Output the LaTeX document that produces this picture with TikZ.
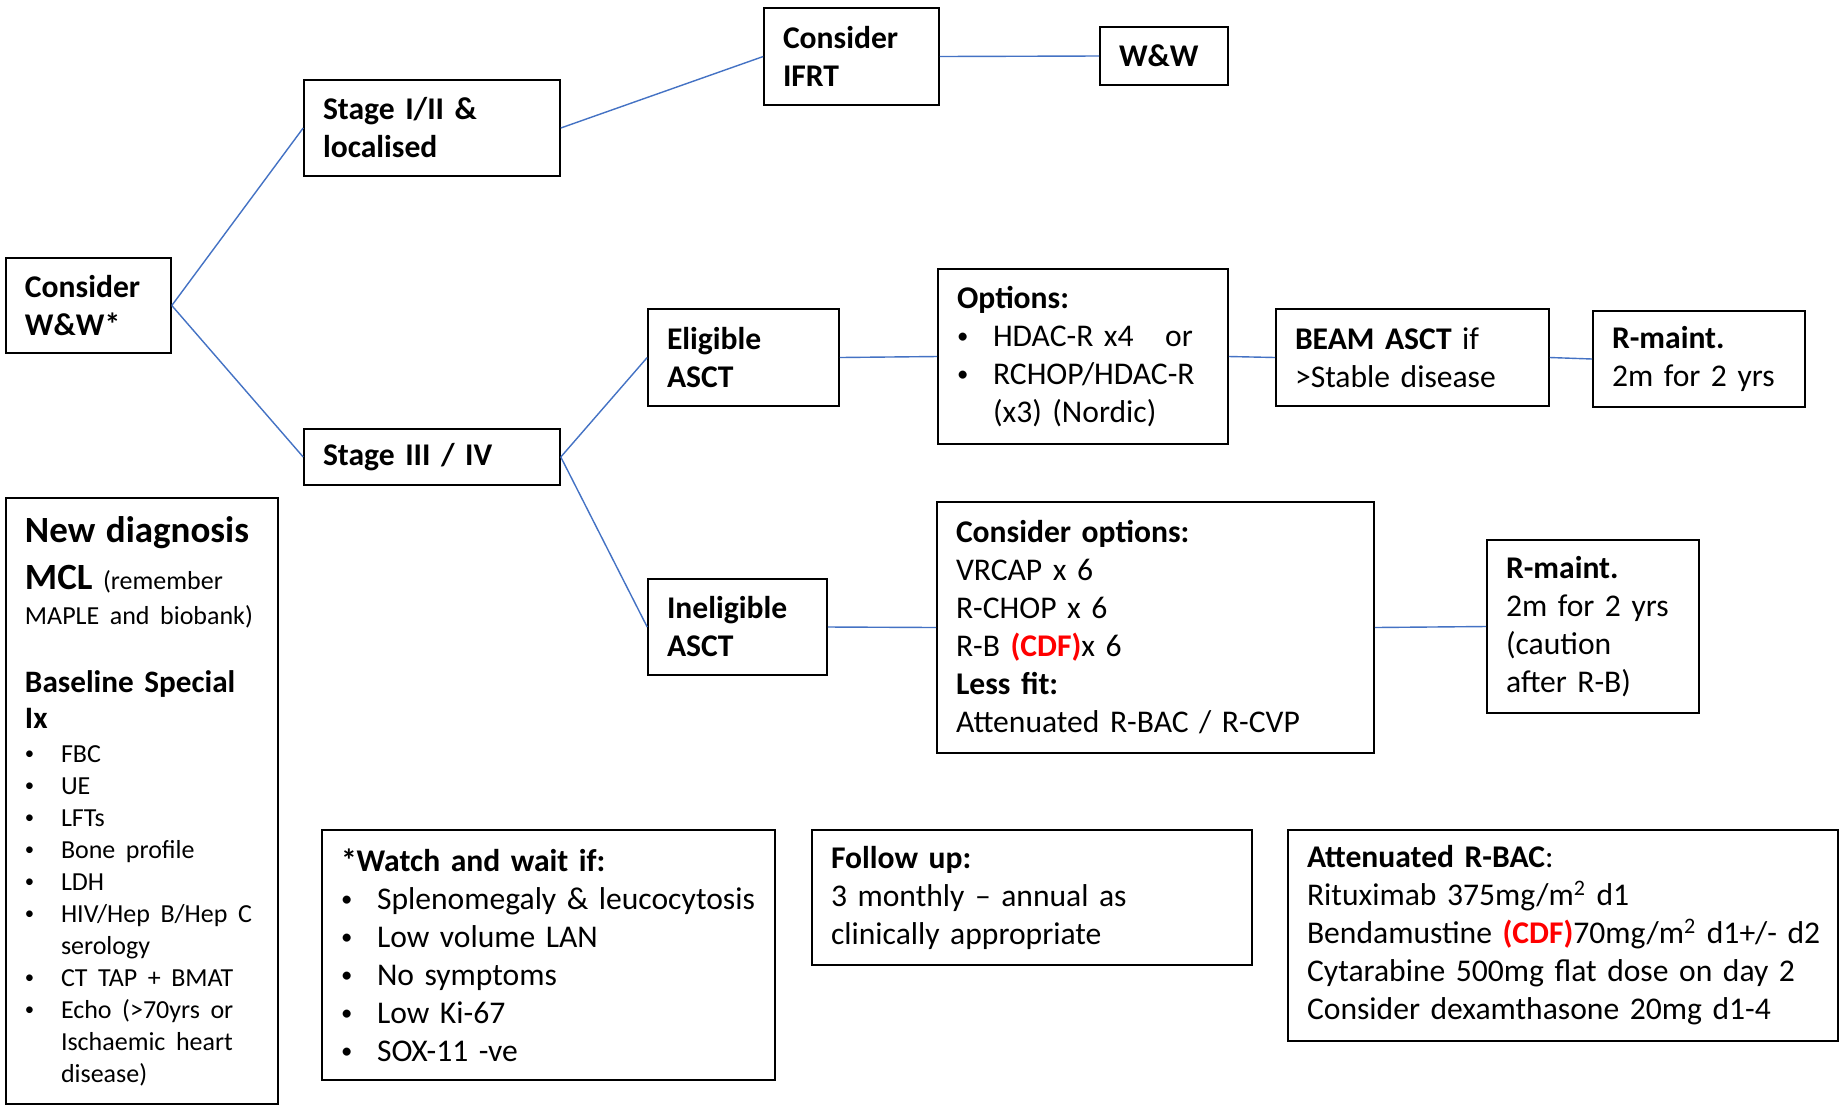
\documentclass[tikz,border=0pt]{standalone}
\usepackage{fontspec}
\setmainfont{Carlito}[WordSpace=0.8]
\usepackage{xcolor}
\definecolor{lnblue}{HTML}{4472C4}
\definecolor{cdfred}{HTML}{FF0000}
\newlength\bi \setlength\bi{18pt}
\newcommand\itm{\par\noindent\makebox[\bi][l]{\raisebox{0.09em}{\scalebox{0.72}{\textbullet}}}}
\newcommand\cnt{\par\noindent\hspace*{\bi}}
\newcommand\cdf{\textcolor{cdfred}{\bfseries (CDF)}}
\tikzset{
  box/.style={draw=black, line width=0.8pt, fill=white, inner xsep=9.5pt, inner ysep=0pt,
    align=left, font=\fontsize{15.8}{19}\selectfont,
    execute at begin node={\setlength\parindent{0pt}\lineskiplimit=-100pt}},
  conn/.style={draw=lnblue, line width=0.7pt}
}
\newcommand\bx[6]{%
  \pgfmathsetmacro\bxcx{(#2+#4)/2}%
  \pgfmathsetmacro\bxcy{(#3+#5)/2}%
  \pgfmathsetmacro\bxw{(#4-#2)*0.5}%
  \pgfmathsetmacro\bxh{(#5-#3)*0.5}%
  \pgfmathsetmacro\bxt{\bxw-19}%
  \node[box, minimum width=\bxw pt, minimum height=\bxh pt, text width=\bxt pt] (#1) at (\bxcx,\bxcy) {#6};}
\begin{document}
\begin{tikzpicture}[x=0.5pt,y=-0.5pt]
\useasboundingbox[fill=white] (0,0) rectangle (1845,1110);

\bx{cww}{6}{258}{171}{353}{\bfseries Consider\\W\&W*}
\bx{st12}{304}{80}{560}{176}{\bfseries Stage I/II \&\\localised}
\bx{ifrt}{764}{8}{939}{105}{\bfseries Consider\\IFRT}
\bx{ww}{1100}{27}{1228}{85}{\bfseries W\&W}
\bx{st34}{304}{429}{560}{485}{\bfseries Stage III / IV}
\bx{elig}{648}{309}{839}{406}{\bfseries Eligible\\ASCT}
\bx{opts}{938}{269}{1228}{444}{\textbf{Options:}\itm HDAC-R x4\ \ \ or\itm RCHOP/HDAC-R\cnt (x3) (Nordic)}
\bx{beam}{1276}{309}{1549}{406}{\textbf{BEAM ASCT} if\\>Stable disease}
\bx{rma}{1593}{311}{1805}{407}{\textbf{R-maint.}\\2m for 2 yrs}
\bx{inel}{648}{579}{827}{675}{\bfseries Ineligible\\ASCT}
\bx{copt}{937}{502}{1374}{753}{\textbf{Consider options:}\\VRCAP x 6\\R-CHOP x 6\\R-B \cdf{}x 6\\\textbf{Less fit:}\\Attenuated R-BAC / R-CVP}
\bx{rmb}{1487}{540}{1699}{713}{\textbf{R-maint.}\\2m for 2 yrs\\(caution\\after R-B)}
\bx{newd}{6}{498}{278}{1104}{%
  {\fontsize{18.5}{23}\selectfont\bfseries New diagnosis\par}
  \vspace{6pt}
  {\fontsize{13}{17.5}\selectfont{\fontsize{18.5}{23}\selectfont\bfseries MCL} (remember\\MAPLE and biobank)\par}
  \vspace{16pt}
  {\fontsize{15.6}{18}\selectfont\bfseries Baseline Special\\Ix\par}
  \vspace{1pt}
  {\fontsize{13}{16}\selectfont
   \itm FBC\itm UE\itm LFTs\itm Bone profile\itm LDH\itm \mbox{HIV/Hep B/Hep C}\cnt serology
   \itm CT TAP + BMAT\itm Echo (>70yrs or\cnt Ischaemic heart\cnt disease)\par}}
\bx{watch}{322}{830}{775}{1080}{\textbf{*Watch and wait if:}\itm \mbox{Splenomegaly \& leucocytosis}\itm Low volume LAN\itm No symptoms\itm Low Ki-67\itm SOX-11 -ve}
\bx{follow}{812}{830}{1252}{965}{\textbf{Follow up:}\\3 monthly – annual as\\clinically appropriate}
\bx{rbac}{1288}{830}{1838}{1041}{\textbf{Attenuated R-BAC}:\\Rituximab 375mg/m\textsuperscript{2} d1\\\mbox{Bendamustine \cdf{}70mg/m\textsuperscript{2} d1+/- d2}\\Cytarabine 500mg flat dose on day 2\\Consider dexamthasone 20mg d1-4}

\draw[conn] (cww.east) -- (st12.west);
\draw[conn] (cww.east) -- (st34.west);
\draw[conn] (st12.east) -- (ifrt.west);
\draw[conn] (ifrt.east) -- (ww.west);
\draw[conn] (st34.east) -- (elig.west);
\draw[conn] (st34.east) -- (inel.west);
\draw[conn] (elig.east) -- (opts.west);
\draw[conn] (opts.east) -- (beam.west);
\draw[conn] (beam.east) -- (rma.west);
\draw[conn] (inel.east) -- (copt.west);
\draw[conn] (copt.east) -- (rmb.west);
\end{tikzpicture}
\end{document}
